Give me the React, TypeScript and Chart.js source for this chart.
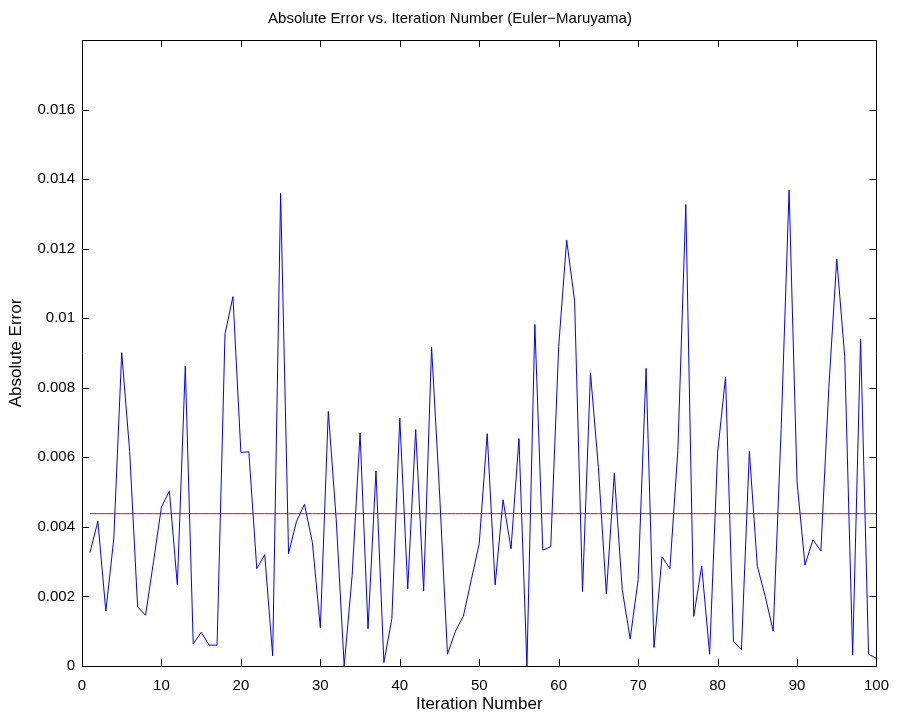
import React, { useEffect, useRef } from "react";
import { Chart, registerables } from "chart.js";

Chart.register(...registerables);

const iterations: number[] = Array.from({ length: 100 }, (_, i) => i + 1);

const absoluteError: number[] = [
  0.00326, 0.00416, 0.00158, 0.00365, 0.00901, 0.00617, 0.0017, 0.00146, 0.003, 0.00457,
  0.00503, 0.00233, 0.00862, 0.00063, 0.00097, 0.0006, 0.0006, 0.00955, 0.01062, 0.00614,
  0.00616, 0.0028, 0.0032, 0.00029, 0.01359, 0.00323, 0.00416, 0.00465, 0.00355, 0.0011,
  0.00732, 0.0042, 0.0, 0.0026, 0.0067, 0.00107, 0.00561, 0.0001, 0.00136, 0.00713,
  0.00222, 0.0068, 0.00216, 0.00917, 0.005, 0.00034, 0.001, 0.00143, 0.00248, 0.00352,
  0.00668, 0.00233, 0.00478, 0.00337, 0.00654, 0.0, 0.00982, 0.00333, 0.00343, 0.00919,
  0.01225, 0.0105, 0.00214, 0.00843, 0.0057, 0.00207, 0.00554, 0.00219, 0.00078, 0.00248,
  0.00856, 0.00053, 0.00314, 0.0028, 0.0062, 0.01327, 0.00143, 0.00287, 0.00034, 0.00613,
  0.00831, 0.0007, 0.00047, 0.00617, 0.00287, 0.002, 0.001, 0.0068, 0.01368, 0.0053,
  0.0029, 0.00363, 0.00331, 0.008, 0.0117, 0.0089, 0.00032, 0.0094, 0.00034, 0.00022,
];

const meanError = 0.00438;

const xTicks: number[] = [0, 10, 20, 30, 40, 50, 60, 70, 80, 90, 100];
const yTicks: number[] = [0, 0.002, 0.004, 0.006, 0.008, 0.01, 0.012, 0.014, 0.016, 0.018];

const chartTitle = "Absolute Error vs. Iteration Number (Euler\u2212Maruyama)";

const FONT = "'Liberation Sans', Arial, Helvetica, sans-serif";

const boxTicksPlugin = {
  id: "boxTicks",
  afterDraw(chart: any) {
    const { ctx, chartArea, scales } = chart;
    const { left, right, top, bottom } = chartArea;
    const len = 7;
    ctx.save();
    ctx.strokeStyle = "#000";
    ctx.lineWidth = 1;
    ctx.beginPath();
    xTicks.forEach((t) => {
      const px = Math.round(scales.x.getPixelForValue(t)) + 0.5;
      ctx.moveTo(px, bottom);
      ctx.lineTo(px, bottom - len);
      ctx.moveTo(px, top);
      ctx.lineTo(px, top + len);
    });
    yTicks.forEach((t) => {
      const py = Math.round(scales.y.getPixelForValue(t)) + 0.5;
      ctx.moveTo(left, py);
      ctx.lineTo(left + len, py);
      ctx.moveTo(right, py);
      ctx.lineTo(right - len, py);
    });
    ctx.stroke();
    ctx.beginPath();
    ctx.rect(Math.round(left) + 0.5, Math.round(top) + 0.5, Math.round(right - left), Math.round(bottom - top));
    ctx.stroke();
    ctx.fillStyle = "#000";
    ctx.font = `15px ${FONT}`;
    ctx.textAlign = "center";
    ctx.textBaseline = "middle";
    ctx.fillText(chartTitle, chart.width / 2, 19);
    ctx.restore();
  },
};

export default function App() {
  const ref = useRef<HTMLCanvasElement | null>(null);

  useEffect(() => {
    if (!ref.current) return;
    const chart = new Chart(ref.current, {
      type: "line",
      data: {
        datasets: [
          {
            data: iterations.map((x, i) => ({ x, y: absoluteError[i] })),
            borderColor: "#0000ff",
            borderWidth: 1,
            pointRadius: 0,
            tension: 0,
            fill: false,
          },
          {
            data: iterations.map((x) => ({ x, y: meanError })),
            borderColor: "#ff0000",
            borderWidth: 1,
            pointRadius: 0,
            tension: 0,
            fill: false,
          },
        ],
      },
      options: {
        animation: false,
        responsive: false,
        maintainAspectRatio: false,
        layout: { padding: { left: 0, right: 23, top: 40, bottom: 0 } },
        plugins: {
          legend: { display: false },
          tooltip: { enabled: false },
          title: { display: false },
        },
        scales: {
          x: {
            type: "linear",
            min: 0,
            max: 100,
            afterBuildTicks: (scale: any) => {
              scale.ticks = xTicks.map((v) => ({ value: v }));
            },
            afterFit: (scale: any) => {
              scale.height = 52;
            },
            grid: { display: false, drawTicks: false },
            border: { display: false },
            ticks: {
              color: "#000",
              padding: 11,
              maxRotation: 0,
              font: { family: FONT, size: 15 },
              callback: (v: any) => String(v),
            },
            title: {
              display: true,
              text: "Iteration Number",
              color: "#000",
              font: { family: FONT, size: 17 },
              padding: { top: 0, bottom: 3 },
            },
          },
          y: {
            type: "linear",
            min: 0,
            max: 0.018,
            afterBuildTicks: (scale: any) => {
              scale.ticks = yTicks.map((v) => ({ value: v }));
            },
            afterFit: (scale: any) => {
              scale.width = 82;
            },
            grid: { display: false, drawTicks: false },
            border: { display: false },
            ticks: {
              color: "#000",
              padding: 7,
              font: { family: FONT, size: 15 },
              callback: (v: any) => {
                const n = Number(v);
                if (n > 0.017) return "";
                return String(parseFloat(n.toFixed(4)));
              },
            },
            title: {
              display: true,
              text: "Absolute Error",
              color: "#000",
              font: { family: FONT, size: 17 },
              padding: { top: 6, bottom: 0 },
            },
          },
        },
      },
      plugins: [boxTicksPlugin],
    } as any);
    return () => chart.destroy();
  }, []);

  return (
    <div style={{ position: "fixed", left: 0, top: 0, width: 900, height: 718, background: "#fff" }}>
      <canvas ref={ref} width={900} height={718} style={{ width: 900, height: 718, display: "block" }} />
    </div>
  );
}
